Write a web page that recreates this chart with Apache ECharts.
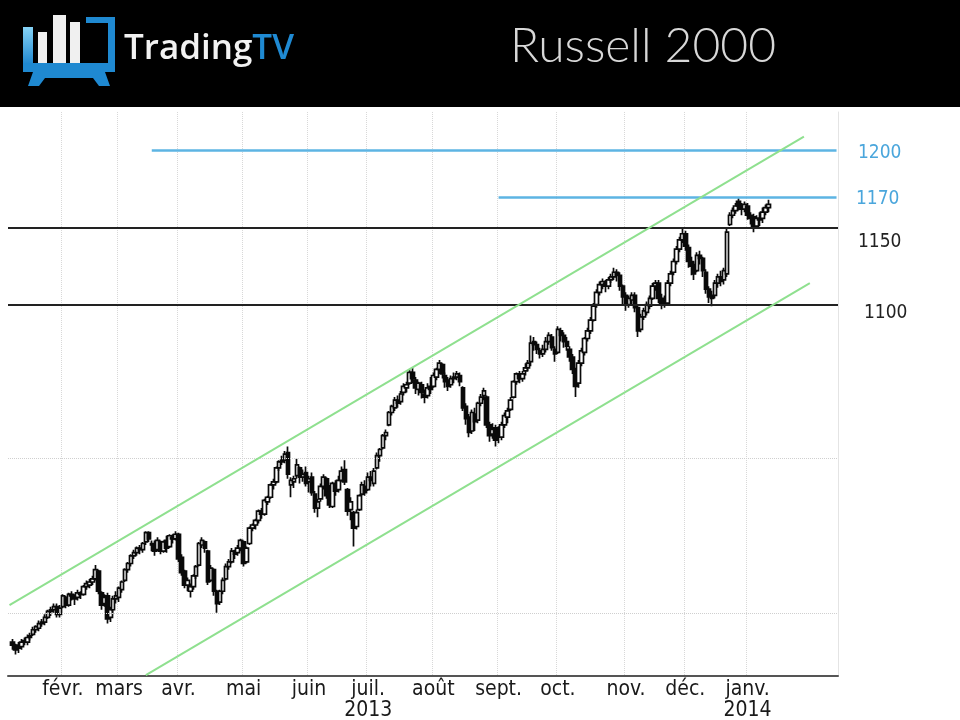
<!DOCTYPE html>
<html>
<head>
<meta charset="utf-8">
<script src="https://cdn.jsdelivr.net/npm/echarts@6/dist/echarts.min.js"></script>
<style>
html,body{margin:0;padding:0;background:#fff;}
#c{width:960px;height:720px;}
</style>
</head>
<body>
<div id="c"></div>
<script>
// ---------- DATA ----------
// trading days shown on the category axis
const tradingDays = {
  '2013-01': [7,8,9,10,11,14,15,16,17,18,22,23,24,25,28,29,30,31],
  '2013-02': [1,4,5,6,7,8,11,12,13,14,15,19,20,21,22,25,26,27,28],
  '2013-03': [1,4,5,6,7,8,11,12,13,14,15,18,19,20,21,22,25,26,27,28],
  '2013-04': [1,2,3,4,5,8,9,10,11,12,15,16,17,18,19,22,23,24,25,26,29,30],
  '2013-05': [1,2,3,6,7,8,9,10,13,14,15,16,17,20,21,22,23,24,28,29,30,31],
  '2013-06': [3,4,5,6,7,10,11,12,13,14,17,18,19,20,21,24,25,26,27,28],
  '2013-07': [1,2,3,5,8,9,10,11,12,15,16,17,18,19,22,23,24,25,26,29,30,31],
  '2013-08': [1,2,5,6,7,8,9,12,13,14,15,16,19,20,21,22,23,26,27,28,29,30],
  '2013-09': [3,4,5,6,9,10,11,12,13,16,17,18,19,20,23,24,25,26,27,30],
  '2013-10': [1,2,3,4,7,8,9,10,11,14,15,16,17,18,21,22,23,24,25,28,29,30,31],
  '2013-11': [1,4,5,6,7,8,11,12,13,14,15,18,19,20,21,22,25,26,27,29],
  '2013-12': [2,3,4,5,6,9,10,11,12,13,16,17,18,19,20,23,24,26,27,30,31],
  '2014-01': [2,3,6,7,8,9,10,13,14,15,16,17,21,22,23,24,27,28,29,30,31],
  '2014-02': [3,4,5,6,7,10,11,12,13,14]
};
const monthNames = ['janv.','févr.','mars','avr.','mai','juin','juil.','août','sept.','oct.','nov.','déc.'];
const yearLabels = {'2013-07':'2013','2014-01':'2014'};
const lastLabelDate = '2014-01-31';

// daily candles [open, close, low, high], starting at candleStart
const candleStart = '2013-01-08';
const jan13 = [[881,879,876,883],[879,876,873,880],[877,878,874,881],[878,881,876,883],[881,882,879,884],[881,884,879,886],[884,885,882,887],[886,889,885,891],[889,891,887,892],[890,893,888,895],[893,894,891,896],[894,897,892,899],[897,901,896,902],[901,902,898,904],[902,904,900,906],[904,899,897,906],[899,903,897,905]];
const feb13 = [[904,911,903,912],[910,905,903,911],[905,912,904,913],[912,911,908,914],[911,909,905,912],[910,913,908,915],[913,912,909,914],[912,917,911,918],[917,919,915,921],[918,920,916,922],[920,922,918,924],[922,928,921,931],[927,914,912,928],[913,905,902,914],[906,910,904,912],[911,896,893,913],[897,902,894,904],[902,909,900,911],[909,911,906,914]];
const mar13 = [[910,916,907,917],[915,920,913,921],[921,928,920,929],[928,932,926,933],[932,937,930,938],[937,939,935,941],[939,942,937,943],[942,941,938,944],[941,945,939,946],[946,952,944,953],[952,948,946,953],[945,944,940,947],[944,940,937,947],[941,947,940,949],[946,940,938,947],[940,946,939,947],[947,942,939,950],[943,950,942,951],[949,948,945,951],[948,951,947,953]];
const apr13 = [[951,935,933,952],[936,926,924,938],[927,918,916,928],[918,921,914,923],[914,917,910,919],[917,924,915,925],[924,930,922,931],[931,945,930,946],[944,947,942,949],[946,942,939,947],[940,920,918,941],[921,929,920,931],[928,914,911,929],[914,906,900,915],[907,914,905,915],[914,921,912,923],[922,930,921,932],[930,933,928,935],[933,940,932,942],[940,938,935,941],[939,942,937,944],[942,947,940,948]];
const may13 = [[946,932,930,947],[933,942,932,943],[945,955,944,956],[955,957,953,958],[957,960,954,961],[960,966,958,967],[966,964,961,968],[964,973,963,974],[972,975,970,976],[975,983,974,984],[983,985,980,987],[985,994,984,995],[994,998,992,999],[998,999,996,1002],[999,1003,997,1005],[1004,990,987,1008],[983,986,975,988],[985,987,981,989],[989,996,987,1000],[994,988,984,995],[988,990,985,993],[991,984,982,995]];
const jun13 = [[985,987,978,989],[988,978,976,991],[977,968,965,979],[968,972,962,974],[974,982,972,984],[982,988,980,990],[987,976,974,988],[978,970,968,983],[969,984,968,985],[983,979,976,986],[980,986,978,989],[986,992,985,995],[993,985,983,999],[980,966,963,981],[967,972,960,975],[965,955,943,966],[956,965,954,967],[967,976,966,977],[977,983,976,985],[982,978,976,986]];
const jul13 = [[980,988,979,991],[988,986,982,992],[984,992,982,994],[994,1002,993,1004],[1002,1006,998,1007],[1007,1015,1006,1016],[1015,1017,1012,1019],[1022,1030,1021,1031],[1030,1034,1028,1035],[1033,1038,1031,1040],[1038,1036,1033,1041],[1037,1042,1035,1044],[1043,1047,1041,1049],[1046,1048,1043,1050],[1049,1056,1048,1058],[1056,1052,1049,1059],[1051,1046,1042,1053],[1045,1049,1041,1050],[1048,1043,1039,1050],[1042,1040,1036,1045],[1041,1046,1039,1049],[1047,1045,1042,1053]];
const aug13 = [[1047,1054,1046,1056],[1053,1058,1051,1059],[1058,1062,1055,1064],[1061,1055,1052,1062],[1054,1050,1046,1056],[1051,1047,1044,1053],[1048,1052,1046,1054],[1052,1053,1049,1056],[1053,1055,1051,1057],[1054,1050,1047,1056],[1046,1033,1031,1047],[1034,1026,1022,1036],[1027,1017,1014,1029],[1018,1030,1016,1032],[1029,1024,1018,1033],[1025,1036,1023,1037],[1036,1040,1034,1042],[1041,1044,1038,1046],[1040,1022,1020,1041],[1022,1015,1011,1024],[1016,1019,1013,1023],[1020,1012,1008,1022]];
const sep13 = [[1016,1015,1010,1021],[1014,1022,1012,1024],[1022,1028,1020,1030],[1027,1031,1023,1033],[1032,1038,1031,1040],[1040,1050,1039,1051],[1050,1055,1048,1056],[1055,1052,1049,1057],[1052,1055,1050,1057],[1057,1059,1054,1062],[1059,1062,1057,1064],[1063,1075,1060,1080],[1076,1074,1070,1079],[1074,1071,1068,1076],[1070,1068,1065,1072],[1068,1071,1066,1074],[1071,1076,1069,1079],[1076,1080,1074,1082],[1079,1072,1070,1081],[1071,1068,1063,1073]];
const oct13 = [[1069,1084,1068,1086],[1083,1080,1076,1085],[1080,1076,1072,1082],[1076,1073,1070,1079],[1071,1066,1063,1073],[1066,1058,1055,1068],[1057,1047,1040,1059],[1049,1062,1046,1064],[1062,1070,1060,1072],[1069,1078,1067,1079],[1078,1083,1076,1085],[1083,1090,1081,1092],[1090,1099,1089,1101],[1100,1108,1098,1110],[1108,1113,1106,1115],[1113,1115,1110,1117],[1114,1112,1108,1116],[1112,1116,1110,1118],[1116,1118,1114,1120],[1118,1121,1116,1124],[1121,1119,1115,1123],[1119,1112,1109,1121],[1112,1105,1100,1113]];
const nov13 = [[1106,1100,1096,1108],[1100,1104,1098,1106],[1103,1106,1100,1108],[1106,1098,1095,1108],[1098,1083,1079,1100],[1084,1092,1082,1094],[1092,1096,1090,1098],[1095,1100,1093,1102],[1099,1104,1097,1106],[1104,1112,1103,1114],[1112,1114,1109,1116],[1114,1104,1101,1116],[1104,1101,1097,1107],[1103,1100,1098,1106],[1101,1114,1100,1116],[1114,1120,1112,1122],[1121,1128,1119,1130],[1128,1136,1126,1138],[1136,1142,1134,1144],[1142,1146,1140,1149]];
const dec13 = [[1146,1138,1135,1148],[1137,1128,1124,1139],[1128,1125,1119,1131],[1126,1120,1116,1128],[1122,1132,1121,1134],[1132,1130,1126,1135],[1130,1122,1118,1131],[1121,1110,1107,1123],[1110,1105,1101,1112],[1106,1104,1099,1109],[1106,1114,1104,1116],[1114,1118,1111,1120],[1118,1115,1112,1122],[1116,1122,1113,1124],[1120,1147,1118,1149],[1152,1158,1151,1160],[1158,1161,1156,1163],[1161,1164,1159,1166],[1167,1164,1161,1169],[1164,1162,1158,1166],[1162,1165,1160,1167]];
const jan14 = [[1164,1158,1155,1166],[1158,1156,1152,1160],[1157,1150,1147,1159],[1151,1156,1149,1158],[1156,1155,1151,1160],[1156,1160,1153,1163],[1160,1163,1158,1165],[1163,1165,1160,1168]];

// horizontal levels and where the blue ones begin
const levelValues = [1200, 1170, 1150, 1100];
const levelStarts = ['2013-03-18', '2013-09-03', null, null];
const levelLabels = ['1200', '1170', '1150', '1100'];
// trend channel (date, value) endpoints
const channelUpper = [['2013-01-07', 905], ['2014-01-30', 1209]];
const channelLower = [['2013-03-14', 859.5], ['2014-02-03', 1114]];
// faint horizontal grid values
const gridValues = [900, 1000];
const yMin = 859, yMax = 1225;

// ---------- BUILD ----------
const dates = [];
Object.keys(tradingDays).forEach(function (m) {
  tradingDays[m].forEach(function (d) { dates.push(m + '-' + (d < 10 ? '0' + d : '' + d)); });
});
const allCandles = [].concat(jan13, feb13, mar13, apr13, may13, jun13, jul13, aug13, sep13, oct13, nov13, dec13, jan14);
const startIdx = dates.indexOf(candleStart);
const seriesData = dates.map(function (d, i) {
  const k = i - startIdx;
  return (k >= 0 && k < allCandles.length) ? allCandles[k] : '-';
});
const lastDate = dates[dates.length - 1];

function isMonthStart(i) {
  if (i <= 0) return false;
  if (dates[i] > lastLabelDate) return false;
  return dates[i].slice(0, 7) !== dates[i - 1].slice(0, 7);
}

// styles
const levelColors = ['#5db4e3', '#5db4e3', '#222222', '#222222'];
const labelColors = ['#4aa6dc', '#4aa6dc', '#222', '#222'];
const labelX = [858, 856, 858, 864];
const labelDy = [3, 2, 14, 8];
const greenColor = '#8fe08f';

const levelLines = levelValues.map(function (v, k) {
  const ls = {color: levelColors[k], width: k < 2 ? 2.5 : 2, type: 'solid'};
  if (levelStarts[k]) {
    return [{coord: [levelStarts[k], v], lineStyle: ls}, {coord: [lastDate, v]}];
  }
  return {yAxis: v, lineStyle: ls};
});
const channelLines = [channelUpper, channelLower].map(function (c) {
  return [{coord: c[0], lineStyle: {color: greenColor, width: 2, type: 'solid'}}, {coord: c[1]}];
});

const chart = echarts.init(document.getElementById('c'), null, {renderer: 'canvas'});

const headerGraphics = [
  {type: 'rect', id: 'band', shape: {x: 0, y: 0, width: 960, height: 107}, style: {fill: '#000'}, z: 0},
  {type: 'rect', id: 'b0', shape: {x: 23, y: 27, width: 10, height: 37},
    style: {fill: new echarts.graphic.LinearGradient(0, 0, 0, 1, [{offset: 0, color: '#86d3f6'}, {offset: 1, color: '#2088d0'}])}, z: 2},
  {type: 'rect', id: 'b1', shape: {x: 38, y: 32, width: 9, height: 31}, style: {fill: '#f0f0f0'}, z: 2},
  {type: 'rect', id: 'b2', shape: {x: 53, y: 15, width: 13, height: 48}, style: {fill: '#f0f0f0'}, z: 2},
  {type: 'rect', id: 'b3', shape: {x: 70, y: 22, width: 10, height: 41}, style: {fill: '#f0f0f0'}, z: 2},
  {type: 'rect', id: 'f1', shape: {x: 86, y: 17, width: 29, height: 6}, style: {fill: '#1f89d1'}, z: 2},
  {type: 'rect', id: 'f2', shape: {x: 108, y: 17, width: 7, height: 50}, style: {fill: '#1f89d1'}, z: 2},
  {type: 'rect', id: 'f3', shape: {x: 23, y: 63, width: 92, height: 9}, style: {fill: '#1f89d1'}, z: 2},
  {type: 'polygon', id: 'st', shape: {points: [[33, 72], [105, 72], [110, 86], [99, 86], [93, 78], [45, 78], [39, 86], [28, 86]]}, style: {fill: '#1f89d1'}, z: 2},
  {type: 'text', id: 'logo', x: 124, y: 49, z: 2,
    style: {text: '{a|Trading}{b|TV}', verticalAlign: 'middle',
      rich: {
        a: {fill: '#f2f2f2', fontSize: 35, fontWeight: 600, fontFamily: '"Open Sans", "Liberation Sans", sans-serif'},
        b: {fill: '#1f8ad3', fontSize: 35, fontWeight: 600, fontFamily: '"Open Sans", "Liberation Sans", sans-serif'}
      }}},
  {type: 'text', id: 'title', x: 643, y: 47, z: 2,
    style: {text: 'Russell 2000', fill: '#d8d8d8', fontSize: 48, fontWeight: 300, fontFamily: 'Lato, "Open Sans", sans-serif', align: 'center', verticalAlign: 'middle'}}
];

const axisFont = '"DejaVu Sans Condensed", "Liberation Sans", sans-serif';

const option = {
  animation: false,
  backgroundColor: '#fff',
  grid: {left: 8, right: 122, top: 112, bottom: 44, containLabel: false, outerBoundsMode: 'none'},
  xAxis: {
    type: 'category',
    data: dates,
    boundaryGap: true,
    axisLine: {show: true, onZero: false, lineStyle: {color: '#555', width: 2}},
    axisTick: {show: false},
    axisLabel: {
      interval: function (i) { return isMonthStart(i); },
      formatter: function (v) {
        const key = v.slice(0, 7);
        const m = parseInt(v.slice(5, 7), 10);
        return monthNames[m - 1] + (yearLabels[key] ? '\n' + yearLabels[key] : '');
      },
      color: '#1a1a1a', fontSize: 21, fontFamily: axisFont, margin: 3, lineHeight: 21
    },
    splitLine: {
      show: true,
      interval: function (i) { return isMonthStart(i); },
      lineStyle: {color: '#d8d8d8', type: 'dotted', width: 1}
    }
  },
  yAxis: [
    {type: 'value', min: yMin, max: yMax, axisLine: {show: false}, axisTick: {show: false},
     axisLabel: {show: false}, splitLine: {show: false}},
    {type: 'value', position: 'right', min: yMin, max: yMax, axisLine: {show: true, lineStyle: {color: '#e4e4e4', width: 1}},
     axisTick: {show: false}, axisLabel: {show: false}, splitLine: {show: false}}
  ],
  series: [
    {
      type: 'line', name: 'grid', data: dates.map(function () { return '-'; }), z: 1, silent: true,
      markLine: {symbol: ['none', 'none'], silent: true, label: {show: false}, animation: false,
        data: gridValues.map(function (v) { return {yAxis: v, lineStyle: {color: '#cfcfcf', type: 'dotted', width: 1}}; })}
    },
    {
      type: 'candlestick', name: 'Russell 2000', data: seriesData, z: 3,
      barWidth: 4,
      itemStyle: {color: '#ffffff', color0: '#0a0a0a', borderColor: '#0a0a0a', borderColor0: '#0a0a0a', borderWidth: 1.7},
      markLine: {symbol: ['none', 'none'], silent: true, label: {show: false}, animation: false,
        data: levelLines.concat(channelLines)}
    }
  ],
  graphic: headerGraphics
};

chart.setOption(option);

const labelGraphics = levelValues.map(function (v, k) {
  const y = chart.convertToPixel({yAxisIndex: 0}, v);
  return {type: 'text', id: 'lv' + k, x: labelX[k], y: y + labelDy[k], z: 5,
    style: {text: levelLabels[k], fill: labelColors[k], fontSize: 19, fontFamily: axisFont, verticalAlign: 'middle', align: 'left'}};
});
chart.setOption({graphic: headerGraphics.concat(labelGraphics)});
</script>
</body>
</html>
